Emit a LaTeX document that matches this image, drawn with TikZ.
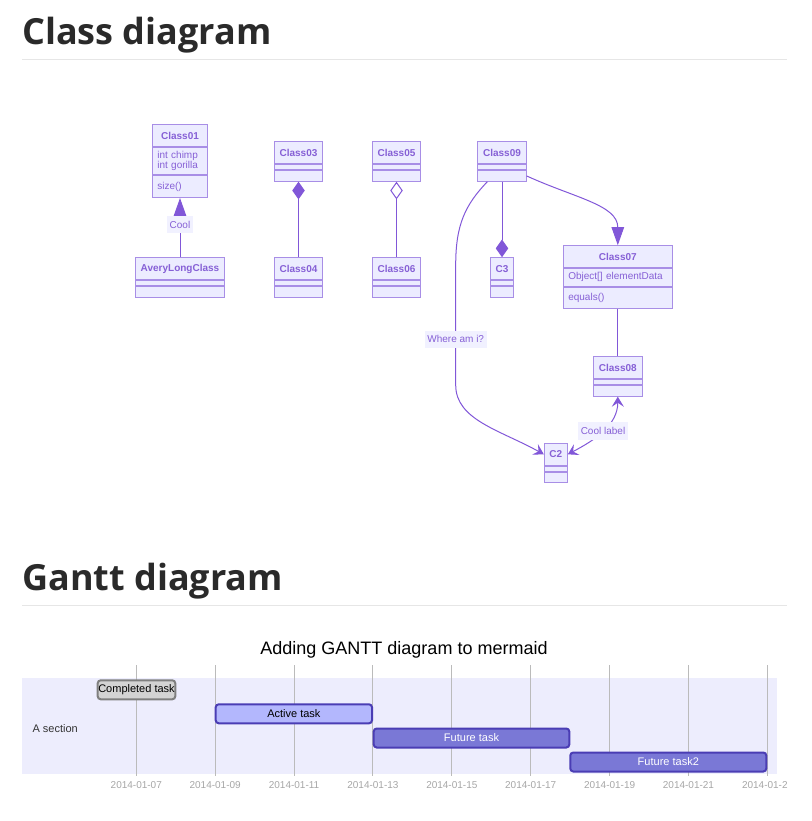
\documentclass[tikz,border=0pt]{standalone}
\usepackage{fontspec}
\setmainfont{Liberation Sans}
\newfontfamily\headfont{Open Sans}
\usetikzlibrary{positioning,arrows.meta}

\definecolor{boxfill}{HTML}{ECECFF}
\definecolor{boxline}{HTML}{A88EE6}
\definecolor{clstext}{HTML}{8660D6}
\definecolor{edgecol}{HTML}{8157D8}
\definecolor{lblfill}{HTML}{F1F1FF}
\definecolor{rulecol}{HTML}{E6E6E6}
\definecolor{headcol}{HTML}{2A2A2A}
\definecolor{secfill}{HTML}{EDEDFD}
\definecolor{gridcol}{HTML}{BBBBBB}
\definecolor{tickcol}{HTML}{A6A6A6}
\definecolor{donefill}{HTML}{D3D3D3}
\definecolor{doneline}{HTML}{7F7F7F}
\definecolor{actfill}{HTML}{B3B7FD}
\definecolor{taskline}{HTML}{4A3DB4}
\definecolor{futfill}{HTML}{7A78D6}

\begin{document}
\begin{tikzpicture}[x=1pt,y=-1pt]

\useasboundingbox (0,0) rectangle (811,821);

\tikzset{clshead/.style = {draw=boxline,line width=1pt,fill=boxfill,text=clstext,inner sep=0pt,minimum height=22pt,font=\fontsize{10}{12}\selectfont\bfseries}}
\tikzset{clsbody/.style = {draw=boxline,line width=1pt,fill=boxfill,text=clstext,inner xsep=5pt,inner ysep=0pt,align=left,font=\fontsize{10}{10}\selectfont}}
\tikzset{edge/.style = {draw=edgecol,line width=1pt}}
\tikzset{inherit/.style = {-{Triangle[length=18pt,width=12.5pt]}}}
\tikzset{compose/.style = {-{Diamond[length=17.7pt,width=12.5pt]}}}
\tikzset{aggreg/.style = {-{Diamond[open,fill=white,length=17.7pt,width=12.5pt]}}}
\tikzset{assoc/.style = {-{Stealth[length=10pt,width=12pt,inset=4pt]}}}
\tikzset{twoway/.style = {{Stealth[length=10pt,width=12pt,inset=4pt]}-{Stealth[length=10pt,width=12pt,inset=4pt]}}}
\tikzset{elabel/.style = {fill=lblfill,text=clstext,inner xsep=2.5pt,inner ysep=0pt,minimum height=17.5pt,font=\fontsize{10}{12}\selectfont}}
\tikzset{heading/.style = {anchor=base west,inner sep=0pt,text=headcol,font=\headfont\bfseries\fontsize{36}{40}\selectfont}}
\tikzset{gridline/.style = {draw=gridcol,line width=1pt}}
\tikzset{tick/.style = {inner sep=0pt,text=tickcol,font=\fontsize{10}{12}\selectfont}}
\tikzset{task/.style = {rounded corners=3pt,line width=2pt,inner sep=0pt,minimum height=19pt,font=\fontsize{11}{13}\selectfont}}

% headings
\node[heading] (hclass) at (22,45) {Class diagram};
\draw[rulecol,line width=1pt] (22,60) -- (787,60);
\node[heading] (hgantt) at (22,590) {Gantt diagram};
\draw[rulecol,line width=1pt] (22,605) -- (787,605);

% class boxes
\node[clshead,minimum width=55.4pt] (c01) at (180,135.8) {Class01};
\node[clsbody,text width=45.4pt,minimum height=26.7pt,below=0pt of c01] (c01a) {int chimp\\int gorilla};
\node[clsbody,text width=45.4pt,minimum height=22pt,below=0pt of c01a] (c01m) {size()};

\node[clshead,minimum width=89.3pt] (alc) at (180,268.7) {AveryLongClass};
\node[clsbody,minimum width=89.3pt,minimum height=5pt,below=0pt of alc] (alca) {};
\node[clsbody,minimum width=89.3pt,minimum height=10.5pt,below=0pt of alca] (alcm) {};

\node[clshead,minimum width=48.4pt] (c03) at (298.5,152.7) {Class03};
\node[clsbody,minimum width=48.4pt,minimum height=5pt,below=0pt of c03] (c03a) {};
\node[clsbody,minimum width=48.4pt,minimum height=10.5pt,below=0pt of c03a] (c03m) {};

\node[clshead,minimum width=48.4pt] (c04) at (298.5,268.7) {Class04};
\node[clsbody,minimum width=48.4pt,minimum height=5pt,below=0pt of c04] (c04a) {};
\node[clsbody,minimum width=48.4pt,minimum height=10.5pt,below=0pt of c04a] (c04m) {};

\node[clshead,minimum width=48.4pt] (c05) at (396.5,152.7) {Class05};
\node[clsbody,minimum width=48.4pt,minimum height=5pt,below=0pt of c05] (c05a) {};
\node[clsbody,minimum width=48.4pt,minimum height=10.5pt,below=0pt of c05a] (c05m) {};

\node[clshead,minimum width=48.4pt] (c06) at (396.5,268.7) {Class06};
\node[clsbody,minimum width=48.4pt,minimum height=5pt,below=0pt of c06] (c06a) {};
\node[clsbody,minimum width=48.4pt,minimum height=10.5pt,below=0pt of c06a] (c06m) {};

\node[clshead,minimum width=48.3pt] (c09) at (502,152.7) {Class09};
\node[clsbody,minimum width=48.3pt,minimum height=5pt,below=0pt of c09] (c09a) {};
\node[clsbody,minimum width=48.3pt,minimum height=10.5pt,below=0pt of c09a] (c09m) {};

\node[clshead,minimum width=22.6pt] (c3) at (502,268.7) {C3};
\node[clsbody,minimum width=22.6pt,minimum height=5pt,below=0pt of c3] (c3a) {};
\node[clsbody,minimum width=22.6pt,minimum height=10.5pt,below=0pt of c3a] (c3m) {};

\node[clshead,minimum width=109pt] (c07) at (617.8,256.7) {Class07};
\node[clsbody,text width=99pt,minimum height=17.3pt,below=0pt of c07] (c07a) {Object[] elementData};
\node[clsbody,text width=99pt,minimum height=21.7pt,below=0pt of c07a] (c07m) {equals()};

\node[clshead,minimum width=48.4pt] (c08) at (617.8,367.7) {Class08};
\node[clsbody,minimum width=48.4pt,minimum height=5pt,below=0pt of c08] (c08a) {};
\node[clsbody,minimum width=48.4pt,minimum height=10.5pt,below=0pt of c08a] (c08m) {};

\node[clshead,minimum width=23pt] (c2) at (555.8,454.3) {C2};
\node[clsbody,minimum width=23pt,minimum height=5pt,below=0pt of c2] (c2a) {};
\node[clsbody,minimum width=23pt,minimum height=10.5pt,below=0pt of c2a] (c2m) {};

% relations
\draw[edge,inherit] (alc.north) -- node[elabel,pos=0.55] (lcool) {Cool} (c01m.south);
\draw[edge,compose] (c04.north) -- (c03m.south);
\draw[edge,aggreg] (c06.north) -- (c05m.south);
\draw[edge,compose] (c09m.south) -- (c3.north);
\draw[edge,inherit] (c09m.east) .. controls (575,198) and (617.8,205) .. (c07.north);
\draw[edge,assoc] ([xshift=10pt]c09m.south west) .. controls (465,205) and (455.7,225) .. (455.7,265)
  -- node[elabel,pos=0.62] (lwhere) {Where am i?} (455.7,385)
  .. controls (455.7,420) and (500,430) .. (c2.west);
\draw[edge] (c07m.south) -- (c08.north);
\draw[edge,twoway] (c08m.south) .. controls (617.8,425) and (595,440) .. node[elabel,midway] (lcoollbl) {Cool label} (c2.east);

% gantt
\node[font=\fontsize{18}{22}\selectfont] (gtitle) at (404,650) {Adding GANTT diagram to mermaid};
\fill[secfill] (22,677.7) rectangle (776.7,774);
\node[anchor=west,inner sep=0pt,text=black!80,font=\fontsize{11}{13}\selectfont] (asec) at (32.3,728.3) {A section};

\foreach \d/\dt in {1/07,3/09,5/11,7/13,9/15,11/17,13/19,15/21}{
  \draw[gridline] ({136.3+39.44*(\d-1)},665) -- ({136.3+39.44*(\d-1)},775.7);
  \node[tick] (tk\dt) at ({136.3+39.44*(\d-1)},785.3) {2014-01-\dt};
}
\draw[gridline] (767.3,665) -- (767.3,775.7);
\node[tick,anchor=west] (tk23) at (741.8,785.3) {2014-01-2};

\node[task,draw=doneline,fill=donefill,minimum width=77.6pt] (tdone) at (136.5,689.8) {Completed task};
\node[task,draw=taskline,fill=actfill,minimum width=156.3pt] (tact) at (293.85,713.8) {Active task};
\node[task,draw=taskline,fill=futfill,text=white,minimum width=195.6pt] (tfut) at (471.5,738) {Future task};
\node[task,draw=taskline,fill=futfill,text=white,minimum width=196pt] (tfut2) at (668.3,762) {Future task2};

\end{tikzpicture}
\end{document}
